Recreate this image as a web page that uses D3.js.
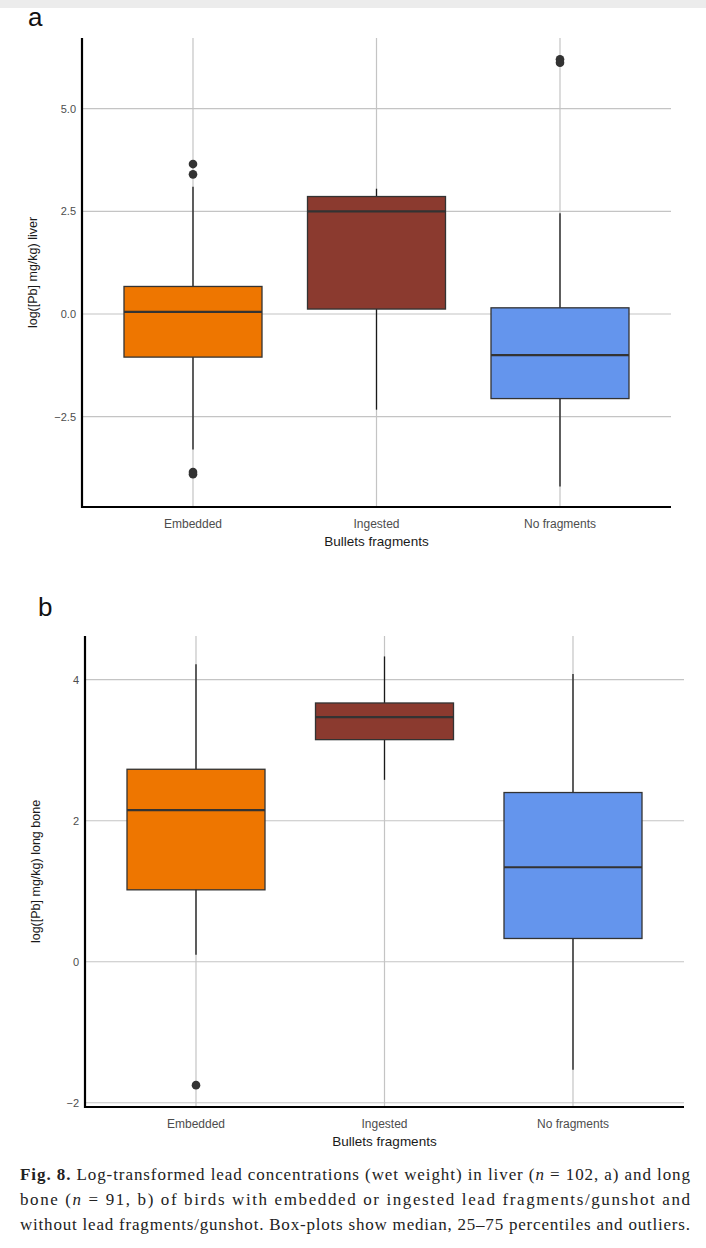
<!DOCTYPE html>
<html><head><meta charset="utf-8">
<script src="https://cdn.jsdelivr.net/npm/d3@7"></script>
<style>body{margin:0;background:#fff}</style>
</head><body>
<svg id="fig" width="706" height="1248"></svg>
<script>
var categories = ["Embedded", "Ingested", "No fragments"];
var colors = ["#ee7600", "#8b3a2f", "#6495ed"];

// liver: [low whisker, q1, median, q3, high whisker]
var liverStats = [[-3.3, -1.05, 0.05, 0.67, 3.1], [-2.33, 0.12, 2.5, 2.86, 3.05], [-4.2, -2.06, -1.0, 0.15, 2.45]];
var liverOutliers = [[3.65, 3.4, -3.85, -3.9], [], [6.2, 6.12]];
var liverTicks = [-2.5, 0, 2.5, 5];

var boneStats = [[0.1, 1.02, 2.15, 2.73, 4.22], [2.58, 3.15, 3.47, 3.67, 4.33], [-1.53, 0.33, 1.34, 2.4, 4.08]];
var boneOutliers = [[-1.75], [], []];
var boneTicks = [-2, 0, 2, 4];

var captionLines = [
  ["Fig. 8.", " Log-transformed lead concentrations (wet weight) in liver (", "n", " = 102, a) and long"],
  ["", "bone (", "n", " = 91, b) of birds with embedded or ingested lead fragments/gunshot and"],
  ["", "without lead fragments/gunshot. Box-plots show median, 25–75 percentiles and outliers.", "", ""]
];

var svg = d3.select("#fig");
svg.append("rect").attr("width", 706).attr("height", 8).attr("fill", "#ececec");

function panel(o) {
  var g = svg.append("g");
  var x = d3.scalePoint().domain(categories).range([o.x0 + 111, o.x1 - 111]);
  var y = d3.scaleLinear().domain(o.dom).range([o.y1, o.y0]);

  g.selectAll(".hg").data(o.ticks).enter().append("line")
    .attr("x1", o.x0).attr("x2", o.x1)
    .attr("y1", function(d){return y(d);}).attr("y2", function(d){return y(d);})
    .attr("stroke", "#c4c4c4").attr("stroke-width", 1.2);
  g.selectAll(".vg").data(categories).enter().append("line")
    .attr("x1", function(d){return x(d);}).attr("x2", function(d){return x(d);})
    .attr("y1", o.y0).attr("y2", o.y1)
    .attr("stroke", "#c4c4c4").attr("stroke-width", 1.2);

  var bw = 138;
  var b = g.selectAll(".box").data(o.stats).enter().append("g");
  b.append("line")
    .attr("x1", function(d,i){return x(categories[i]);}).attr("x2", function(d,i){return x(categories[i]);})
    .attr("y1", function(d){return y(d[0]);}).attr("y2", function(d){return y(d[4]);})
    .attr("stroke", "#1a1a1a").attr("stroke-width", 1.3);
  b.append("rect")
    .attr("x", function(d,i){return x(categories[i]) - bw/2;}).attr("width", bw)
    .attr("y", function(d){return y(d[3]);}).attr("height", function(d){return y(d[1]) - y(d[3]);})
    .attr("fill", function(d,i){return colors[i];}).attr("stroke", "#333").attr("stroke-width", 1.3);
  b.append("line")
    .attr("x1", function(d,i){return x(categories[i]) - bw/2;}).attr("x2", function(d,i){return x(categories[i]) + bw/2;})
    .attr("y1", function(d){return y(d[2]);}).attr("y2", function(d){return y(d[2]);})
    .attr("stroke", "#333").attr("stroke-width", 2.2);

  o.outliers.forEach(function(arr, i){
    g.selectAll(null).data(arr).enter().append("circle")
      .attr("cx", x(categories[i])).attr("cy", function(d){return y(d);}).attr("r", 4.3)
      .attr("fill", "#333");
  });

  g.append("line").attr("x1", o.x0).attr("x2", o.x0).attr("y1", o.y0).attr("y2", o.y1 + 1)
    .attr("stroke", "#000").attr("stroke-width", 2.2);
  g.append("line").attr("x1", o.x0 - 1).attr("x2", o.x1).attr("y1", o.y1).attr("y2", o.y1)
    .attr("stroke", "#000").attr("stroke-width", 2.2);

  g.selectAll(".yt").data(o.ticks).enter().append("text")
    .attr("x", o.x0 - 6).attr("y", function(d){return y(d) + 4;})
    .attr("text-anchor", "end").attr("font-family", "Liberation Sans, Roboto").attr("font-size", 11).attr("fill", "#4d4d4d")
    .text(function(d){return o.fmt(d);});
  g.selectAll(".xt").data(categories).enter().append("text")
    .attr("x", function(d){return x(d);}).attr("y", o.y1 + 21)
    .attr("text-anchor", "middle").attr("font-family", "Liberation Sans, Roboto").attr("font-size", 12).attr("fill", "#4d4d4d")
    .text(function(d){return d;});
  g.append("text").attr("x", (o.x0 + o.x1)/2).attr("y", o.y1 + 39)
    .attr("text-anchor", "middle").attr("font-family", "Liberation Sans, Roboto").attr("font-size", 13.5).attr("fill", "#1a1a1a")
    .text("Bullets fragments");
  g.append("text").attr("transform", "translate(" + (o.x0 - 45) + "," + ((o.y0 + o.y1)/2) + ") rotate(-90)")
    .attr("text-anchor", "middle").attr("font-family", "Liberation Sans, Roboto").attr("font-size", 12.5).attr("fill", "#1a1a1a")
    .text(o.ylab);
  svg.append("text").attr("x", o.lx).attr("y", o.ly).attr("font-family", "Liberation Sans, Roboto").attr("font-size", 26).attr("fill", "#111").text(o.letter);
}

panel({x0: 82, x1: 671, y0: 38, y1: 507, dom: [-4.7, 6.72], ticks: liverTicks, stats: liverStats, outliers: liverOutliers,
  fmt: function(d){return d3.format(".1f")(d).replace("-", "−");}, ylab: "log([Pb] mg/kg) liver", letter: "a", lx: 28, ly: 26});
panel({x0: 85, x1: 684, y0: 636, y1: 1107, dom: [-2.06, 4.62], ticks: boneTicks, stats: boneStats, outliers: boneOutliers,
  fmt: function(d){return String(d).replace("-", "−");}, ylab: "log([Pb] mg/kg) long bone", letter: "b", lx: 38, ly: 616});

var cap = svg.append("g").attr("font-family", "Liberation Serif, DejaVu Serif").attr("font-size", 17).attr("fill", "#222");
captionLines.forEach(function(l, i){
  var t = cap.append("text").attr("x", 20).attr("y", 1180 + i * 25)
    .attr("textLength", 670).attr("lengthAdjust", "spacing");
  t.append("tspan").attr("font-weight", "bold").text(l[0]);
  t.append("tspan").text(l[1]);
  if (l[2]) t.append("tspan").attr("font-style", "italic").text(l[2]);
  if (l[3]) t.append("tspan").text(l[3]);
});
</script>
</body></html>
